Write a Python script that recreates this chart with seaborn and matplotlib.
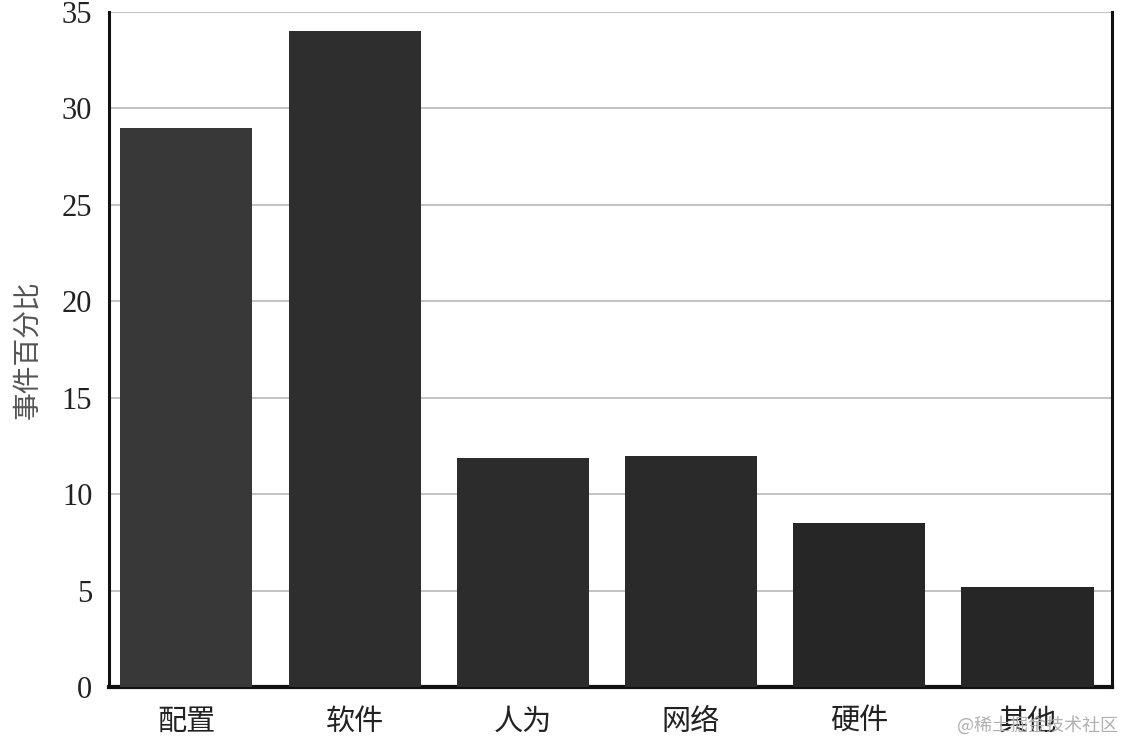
import matplotlib
matplotlib.use("Agg")
import matplotlib.pyplot as plt
import seaborn as sns
import pandas as pd

# data
categories = ["配置", "软件", "人为", "网络", "硬件", "其他"]
percent = [29.0, 34.0, 11.9, 12.0, 8.5, 5.2]
bar_colors = ["#383838", "#2e2e2e", "#2c2c2c", "#2a2a2a", "#262626", "#262626"]
y_ticks = [0, 5, 10, 15, 20, 25, 30, 35]

sns.set_theme(style="white")
plt.rcParams["font.family"] = ["Liberation Serif", "Noto Sans CJK SC", "DejaVu Sans"]
cjk = ["Noto Sans CJK SC", "DejaVu Sans"]

df = pd.DataFrame({"cat": categories, "pct": percent})

fig = plt.figure(figsize=(11.24, 7.44), dpi=100)
ax = fig.add_axes([0.097, 0.076, 0.892, 0.908])

sns.barplot(data=df, x="cat", y="pct", hue="cat", palette=bar_colors,
            legend=False, width=0.785, saturation=1, linewidth=0,
            ax=ax, zorder=3)

ax.set_xlim(-0.46, 5.5)
ax.set_ylim(0, 35)
ax.set_yticks(y_ticks)
ax.yaxis.grid(True, color="#b8b8b8", linewidth=1.2, zorder=0)
ax.set_axisbelow(True)

ax.set_xlabel("")
ax.set_ylabel("事件百分比", fontsize=20, color="#555555", family=cjk, labelpad=14)

ax.tick_params(axis="y", length=0, labelsize=22, pad=12, labelcolor="#222222")
ax.tick_params(axis="x", length=0, pad=14)
for lbl in ax.get_xticklabels():
    lbl.set_fontfamily(cjk)
    lbl.set_fontsize(21)
    lbl.set_color("#222222")

ax.spines["top"].set_visible(False)
for side, lw in [("left", 2.2), ("bottom", 3.0), ("right", 2.2)]:
    ax.spines[side].set_color("#111111")
    ax.spines[side].set_linewidth(lw)

fig.text(0.995, 0.012, "@稀土掘金技术社区", ha="right", va="bottom",
         fontsize=13, color="#b0b0b0", family=cjk, zorder=5)

fig.savefig("out.png", dpi=100)
